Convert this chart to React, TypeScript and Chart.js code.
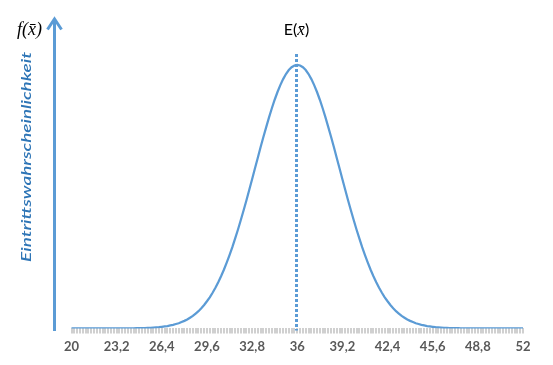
import React, { useEffect, useRef } from "react";
import { Chart, registerables } from "chart.js";

Chart.register(...registerables);

// x categories: 20 .. 52 in steps of 0.2
const xStart = 20;
const xStep = 0.2;
const xCount = 161;
const tickEvery = 16;
const meanIndex = 80; // category 36

// estimated density (x = 20 .. 52)
const density = [
  0, 0, 0, 0, 0, 0, 0, 0, 0, 0, 0, 0, 0, 0, 0, 0, 0, 0, 0, 0, 0, 0, 0,
  0.0001, 0.0001, 0.0002, 0.0002, 0.0003, 0.0003, 0.0004, 0.0005, 0.0006, 0.0008,
  0.0010, 0.0012, 0.0015, 0.0018, 0.0022, 0.0026, 0.0032, 0.0038, 0.0045, 0.0054,
  0.0063, 0.0075, 0.0087, 0.0102, 0.0118, 0.0137, 0.0157, 0.0180, 0.0205, 0.0233,
  0.0263, 0.0296, 0.0332, 0.0370, 0.0410, 0.0454, 0.0499, 0.0547, 0.0596, 0.0647,
  0.0700, 0.0753, 0.0807, 0.0860, 0.0914, 0.0966, 0.1016, 0.1065, 0.1111, 0.1154,
  0.1193, 0.1228, 0.1258, 0.1284, 0.1304, 0.1318, 0.1327,
  0.1330,
  0.1327, 0.1318, 0.1304, 0.1284, 0.1258, 0.1228, 0.1193, 0.1154, 0.1111, 0.1065,
  0.1016, 0.0966, 0.0914, 0.0860, 0.0807, 0.0753, 0.0700, 0.0647, 0.0596, 0.0547,
  0.0499, 0.0454, 0.0410, 0.0370, 0.0332, 0.0296, 0.0263, 0.0233, 0.0205, 0.0180,
  0.0157, 0.0137, 0.0118, 0.0102, 0.0087, 0.0075, 0.0063, 0.0054, 0.0045, 0.0038,
  0.0032, 0.0026, 0.0022, 0.0018, 0.0015, 0.0012, 0.0010, 0.0008, 0.0006, 0.0005,
  0.0004, 0.0003, 0.0003, 0.0002, 0.0002, 0.0001, 0.0001,
  0, 0, 0, 0, 0, 0, 0, 0, 0, 0, 0, 0, 0, 0, 0, 0, 0, 0, 0, 0, 0, 0, 0,
];

const categories = Array.from({ length: xCount }, (_, i) =>
  String(Math.round((xStart + i * xStep) * 10) / 10).replace(".", ",")
);

const yTitle = "Eintrittswahrscheinlichkeit";
const meanLabel = "E(";
const fLabel = "f(";
const xBar = "x\u0304";

const BLUE = "#5B9BD5";
const TITLE_BLUE = "#2E75B6";

const overlay = {
  id: "overlay",
  afterDraw(chart: any) {
    const ctx = chart.ctx as CanvasRenderingContext2D;
    const area = chart.chartArea;
    const xs = chart.scales.x;
    ctx.save();
    // y arrow
    ctx.strokeStyle = BLUE;
    ctx.lineWidth = 3;
    ctx.lineCap = "butt";
    ctx.beginPath();
    ctx.moveTo(54.5, 331);
    ctx.lineTo(54.5, 19);
    ctx.stroke();
    ctx.beginPath();
    ctx.lineJoin = "miter";
    ctx.moveTo(47.5, 29.5);
    ctx.lineTo(54.5, 19);
    ctx.lineTo(61.5, 29.5);
    ctx.stroke();

    // dotted mean line
    const mx = Math.round(xs.getPixelForValue(meanIndex)) - 0.5;
    ctx.setLineDash([3, 2]);
    ctx.lineWidth = 3;
    ctx.beginPath();
    ctx.moveTo(mx, 54);
    ctx.lineTo(mx, area.bottom + 2);
    ctx.stroke();
    ctx.setLineDash([]);

    // f(x̄)
    ctx.fillStyle = "#000";
    ctx.textBaseline = "alphabetic";
    ctx.textAlign = "left";
    ctx.font = "italic 18px 'Liberation Serif'";
    ctx.fillText(fLabel + xBar + ")", 17, 35);

    // E(x̄)
    const sans = "16px Lato";
    const ital = "italic 17px 'Liberation Serif'";
    ctx.font = sans;
    const w1 = ctx.measureText(meanLabel).width;
    const w3 = ctx.measureText(")").width;
    ctx.font = ital;
    const w2 = ctx.measureText(xBar).width;
    let x0 = mx - (w1 + w2 + w3) / 2;
    ctx.font = sans;
    ctx.fillText(meanLabel, x0, 35);
    ctx.font = ital;
    ctx.fillText(xBar, x0 + w1, 35);
    ctx.font = sans;
    ctx.fillText(")", x0 + w1 + w2, 35);

    // y title (stretched along its length)
    ctx.translate(31, 157);
    ctx.rotate(-Math.PI / 2);
    ctx.textAlign = "center";
    ctx.textBaseline = "alphabetic";
    ctx.fillStyle = TITLE_BLUE;
    ctx.font = "italic 600 14px Lato";
    const tw = ctx.measureText(yTitle).width;
    ctx.scale(210 / tw, 1);
    ctx.fillText(yTitle, 0, 0);
    ctx.restore();
  },
};

export default function App() {
  const ref = useRef<HTMLCanvasElement>(null);
  useEffect(() => {
    const chart = new Chart(ref.current!, {
      type: "line",
      data: {
        labels: categories,
        datasets: [
          {
            data: density,
            borderColor: BLUE,
            borderWidth: 2.25,
            pointRadius: 0,
            tension: 0,
            fill: false,
          },
        ],
      },
      options: {
        animation: false,
        responsive: false,
        layout: { padding: { left: 71.5, right: 30, top: 51, bottom: 4 } },
        plugins: { legend: { display: false }, tooltip: { enabled: false } },
        scales: {
          x: {
            type: "category",
            offset: false,
            border: { display: false },
            grid: {
              display: true,
              drawOnChartArea: false,
              drawTicks: true,
              tickLength: 5,
              color: "#d0d0d0",
              lineWidth: 2,
            },
            ticks: {
              autoSkip: false,
              maxRotation: 0,
              padding: 6,
              color: "#595959",
              font: { family: "Lato", size: 13, weight: "bold" },
              callback: (_v: any, i: number) =>
                i % tickEvery === 0 ? categories[i] : "",
            },
          },
          y: {
            display: false,
            min: 0,
            max: 0.14,
          },
        },
      },
      plugins: [overlay],
    });
    return () => chart.destroy();
  }, []);
  return (
    <div style={{ position: "absolute", left: 0, top: 0 }}>
      <canvas ref={ref} width={553} height={365} style={{ display: "block" }} />
    </div>
  );
}
